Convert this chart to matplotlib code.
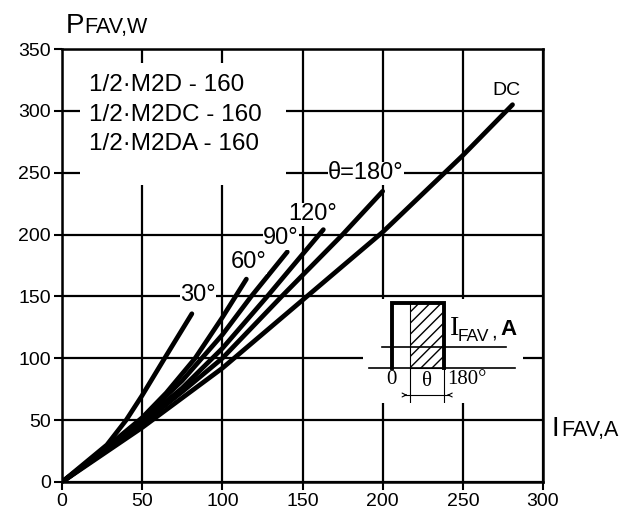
import matplotlib
matplotlib.use("Agg")
from matplotlib import pyplot as plt
from matplotlib.patches import Rectangle

plt.rcParams["font.family"] = ["Liberation Sans", "DejaVu Sans"]

# readings from the reference, I_FAV [A] -> P_FAV [W]
i_30 = [0, 28, 40, 50, 64, 81]
p_30 = [0, 30, 50, 70, 100, 136]
i_60 = [0, 25, 50, 65, 83, 100, 115]
p_60 = [0, 25, 52, 72, 100, 133, 164]
i_90 = [0, 25, 50, 75, 100, 118, 140.5]
p_90 = [0, 24, 51, 82, 119, 150, 186]
i_120 = [0, 25, 50, 75, 100, 128, 150, 163]
p_120 = [0, 24, 49, 76, 108, 150, 184, 204]
i_180 = [0, 25, 50, 75, 100, 137, 175, 200]
p_180 = [0, 23, 47, 73, 100, 150, 200, 235]
i_dc = [0, 50, 100, 150, 200, 250, 281]
p_dc = [0, 44, 92, 147, 202, 264, 305]

curve_labels = ["30°", "60°", "90°", "120°", "θ=180°", "DC"]
model_names = ["1/2·M2D - 160", "1/2·M2DC - 160", "1/2·M2DA - 160"]
x_ticks = [0, 50, 100, 150, 200, 250, 300]
y_ticks = [0, 50, 100, 150, 200, 250, 300, 350]

fig = plt.figure(figsize=(6.3, 5.22), dpi=100)
ax = fig.add_axes([62 / 630, 1 - 482 / 522, 481 / 630, 433 / 522])

ax.set_xlim(0, 300)
ax.set_ylim(0, 350)
ax.set_xticks(x_ticks)
ax.set_yticks(y_ticks)
ax.tick_params(direction="out", length=6, width=1.5, labelsize=14, pad=2)
ax.set_axisbelow(True)
ax.grid(True, color="black", lw=1.6)
for s in ax.spines.values():
    s.set_linewidth(1.8)

# blank area behind the type designation
ax.add_patch(Rectangle((11, 240), 129, 98.5, facecolor="white",
                       edgecolor="none", zorder=1))

curves = [(i_30, p_30), (i_60, p_60), (i_90, p_90),
          (i_120, p_120), (i_180, p_180), (i_dc, p_dc)]
for xs, ys in curves:
    ax.plot(xs, ys, color="black", lw=3.4, solid_capstyle="round",
            solid_joinstyle="round", zorder=3)

label_pos = [(84.8, 151), (116.6, 177.7), (136.5, 197), (156.5, 216.5),
             (189.6, 249.6), (277.4, 316.8)]
for text, (lx, ly) in zip(curve_labels, label_pos):
    size = 14 if text == "DC" else 17
    ax.text(lx, ly, text, ha="center", va="center", fontsize=size,
            bbox=dict(facecolor="white", edgecolor="none", pad=0.3),
            zorder=4)

for k, name in enumerate(model_names):
    ax.text(16.8, 316 - 24 * k, name, ha="left", va="baseline",
            fontsize=17.5, zorder=4)

# axis titles
fig.text(66 / 630, 1 - 33 / 522, "P", fontsize=20, va="baseline")
fig.text(84 / 630, 1 - 33 / 522, "FAV,W", fontsize=15.5, va="baseline")
fig.text(551 / 630, 1 - 436 / 522, "I", fontsize=20, va="baseline")
fig.text(561 / 630, 1 - 436 / 522, "FAV,A", fontsize=15.5, va="baseline")

# inset sketch of the current waveform
ins = fig.add_axes([363 / 630, 1 - 403 / 522, 160 / 630, 104 / 522],
                   facecolor="white")
ins.set_xlim(0, 160)
ins.set_ylim(0, 104)
ins.set_xticks([])
ins.set_yticks([])
for s in ins.spines.values():
    s.set_visible(False)

ins.add_patch(Rectangle((47, 34.7), 34.3, 65, facecolor="white",
                        edgecolor="black", hatch="///", lw=0.8))
ins.plot([28.7, 28.7, 81.3, 81.3], [34.7, 99.7, 99.7, 34.7],
         color="black", lw=2.8, solid_joinstyle="miter")
ins.plot([6.3, 152], [34.7, 34.7], color="black", lw=1.2)
ins.plot([18.7, 142.7], [55.7, 55.7], color="black", lw=1.2)
ins.plot([47, 47], [34.7, 1.3], color="black", lw=0.8)
ins.plot([81.3, 81.3], [34.7, 1.3], color="black", lw=0.8)
ins.plot([41, 86], [8, 8], color="black", lw=0.8)
ins.annotate("", xy=(47, 8), xytext=(40, 8),
             arrowprops=dict(arrowstyle="->", lw=0.8, mutation_scale=7))
ins.annotate("", xy=(81.3, 8), xytext=(88, 8),
             arrowprops=dict(arrowstyle="->", lw=0.8, mutation_scale=7))
ins.text(28, 24, "0", ha="center", va="center", fontsize=15,
         family="Liberation Serif")
ins.text(64, 21, "θ", ha="center", va="center", fontsize=15,
         family="Liberation Serif")
ins.text(84, 23, "180°", ha="left", va="center", fontsize=15,
         family="Liberation Serif")
ins.text(87, 68, "I", ha="left", va="baseline", fontsize=20,
         family="Liberation Serif")
ins.text(95, 62, "FAV", ha="left", va="baseline", fontsize=12.5)
ins.text(128, 65, ",", ha="left", va="baseline", fontsize=15)
ins.text(137, 68, "A", ha="left", va="baseline", fontsize=16,
         fontweight="bold")

fig.savefig("out.png", dpi=100)
